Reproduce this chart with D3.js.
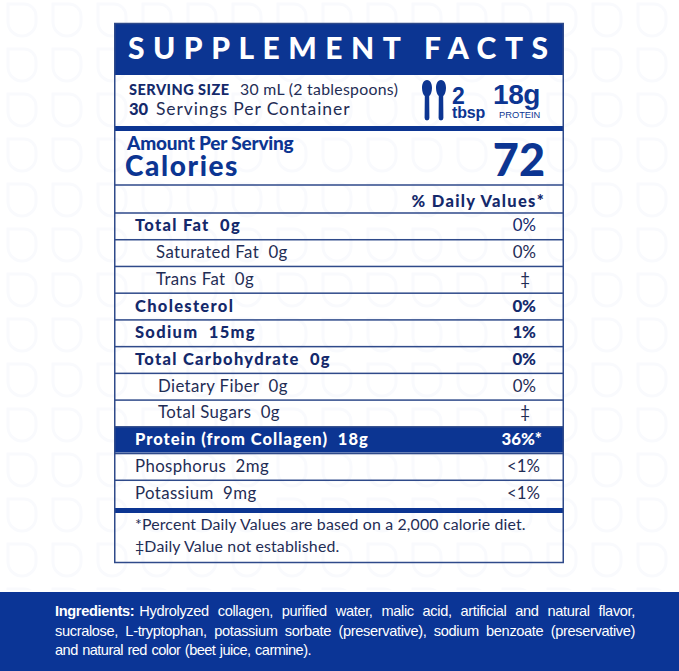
<!DOCTYPE html>
<html>
<head>
<meta charset="utf-8">
<script src="https://cdn.jsdelivr.net/npm/d3@7"></script>
<style>
  html, body { margin: 0; padding: 0; background: #fff; }
  svg { display: block; }
  text { white-space: pre; }
</style>
</head>
<body>
<svg id="chart" width="679" height="671"></svg>
<script>
const nutrients = ['Total Fat', 'Saturated Fat', 'Trans Fat', 'Cholesterol', 'Sodium', 'Total Carbohydrate',
    'Dietary Fiber', 'Total Sugars', 'Protein (from Collagen)', 'Phosphorus', 'Potassium'];
const amounts = ['0g', '0g', '0g', '', '15mg', '0g', '0g', '0g', '18g', '2mg', '9mg'];
const dailyValues = ['0%', '0%', '‡', '0%', '1%', '0%', '0%', '‡', '36%*', '<1%', '<1%'];
const rowStyles = ['bold', 'sub', 'sub', 'bold', 'bold', 'bold', 'sub2', 'sub2', 'hero', 'plain', 'plain'];
const percentWeights = ['light', 'light', 'light', 'bold', 'bold', 'bold', 'light', 'light', 'bold', 'light', 'light'];
const footnotes = ['*Percent Daily Values are based on a 2,000 calorie diet.', '‡Daily Value not established.'];
const ingredientLines = [
    'Hydrolyzed collagen, purified water, malic acid, artificial and natural flavor,',
    'sucralose, L-tryptophan, potassium sorbate (preservative), sodium benzoate (preservative)',
    'and natural red color (beet juice, carmine).'
];

const BLUE = '#0c3592';
const NAVY = '#14296b';
const GREY = '#1f2d55';
const LIGHT = 'Lato, sans-serif';
const ARIAL = '"Liberation Sans", sans-serif';

const svg = d3.select('#chart');

// Faint logo watermark behind everything
const defs = svg.append('defs');
const pattern = defs.append('pattern')
    .attr('id', 'logos')
    .attr('patternUnits', 'userSpaceOnUse')
    .attr('width', 45).attr('height', 45)
    .attr('x', 0).attr('y', -2);
pattern.append('path')
    .attr('d', 'M8,6 H24 A12,12 0 0 1 36,18 V24 A14,14 0 0 1 8,24 Z')
    .attr('fill', 'none')
    .attr('stroke', '#f9fafd')
    .attr('stroke-width', 3);
svg.append('rect').attr('width', 679).attr('height', 590).attr('fill', 'url(#logos)');

// Small helper for the many labels
function put(txt, x, y, size, weight, opts = {}) {
    return svg.append('text')
        .attr('x', x).attr('y', y)
        .attr('font-family', opts.font || LIGHT)
        .attr('font-size', size)
        .attr('font-weight', weight)
        .attr('fill', opts.fill || BLUE)
        .attr('text-anchor', opts.anchor || 'start')
        .attr('letter-spacing', opts.spacing || 0)
        .text(txt);
}

function hline(y, h = 1.5, color = '#2f4a8a') {
    svg.append('rect').attr('x', 115).attr('y', y - h / 2).attr('width', 448).attr('height', h).attr('fill', color);
}

// Table rows
const y = d3.scaleBand().domain(nutrients).range([213, 507]);

// Protein highlight goes under the row text
svg.append('rect')
    .attr('x', 115).attr('width', 448)
    .attr('y', y('Protein (from Collagen)')).attr('height', y.bandwidth() - 1)
    .attr('fill', BLUE);

// Panel header
svg.append('rect').attr('x', 115).attr('y', 23).attr('width', 448).attr('height', 52).attr('fill', BLUE);
put('SUPPLEMENT FACTS', 128, 59, 30, 900, { fill: '#fff' })
    .attr('textLength', 420).attr('lengthAdjust', 'spacing');

// Serving size
put('SERVING SIZE', 129, 95, 14.5, 900, { fill: NAVY, spacing: 0.5 });
put('30 mL (2 tablespoons)', 240, 95, 15.8, 400, { fill: GREY, spacing: 0.3 });
put('30', 129, 115, 16.5, 900, { fill: NAVY });
put('Servings Per Container', 156, 115, 17.5, 400, { fill: GREY, spacing: 0.9 });

// Spoons
const spoonX = d3.scalePoint().domain(d3.range(2)).range([427, 441]);
svg.append('g').selectAll('path')
    .data(d3.range(2))
    .join('path')
    .attr('transform', d => `translate(${spoonX(d)},0)`)
    .attr('fill', BLUE)
    .attr('d', 'M0,80 C3.5,80 5,84 5,88 C5,92 3.5,95 2.2,96 L2.4,118 A2.4,2.4 0 0 1 -2.4,118 L-2.2,96 C-3.5,95 -5,92 -5,88 C-5,84 -3.5,80 0,80 Z');
put('2', 452, 104, 23, 700, { font: ARIAL });
put('tbsp', 452, 118, 16, 700, { font: ARIAL, spacing: -0.2 });
put('18g', 493, 104, 28, 700, { font: ARIAL, spacing: -0.4 });
put('PROTEIN', 499, 118, 9.3, 400, { font: ARIAL });

hline(128.5, 5, BLUE);

// Calories block
put('Amount Per Serving', 127, 150, 19, 900, { spacing: -0.2 });
put('Calories', 125, 176, 28, 900, { spacing: 1.6 });
put('72', 545, 176, 45, 900, { anchor: 'end' });
hline(185);

put('% Daily Values*', 545, 207, 16.5, 900, { anchor: 'end', fill: NAVY, spacing: 1.3 });

// Row lines come from the band scale
const rowEdges = nutrients.map(d => y(d));
svg.append('g').selectAll('rect')
    .data(rowEdges)
    .join('rect')
    .attr('x', 115).attr('width', 448)
    .attr('y', d => d - 0.75).attr('height', 1.5)
    .attr('fill', '#2f4a8a');

const rowX = { bold: 135, hero: 135, plain: 135, sub: 156, sub2: 158 };
nutrients.forEach((name, i) => {
    const style = rowStyles[i];
    const isBold = style === 'bold' || style === 'hero';
    const cy = y(name) + y.bandwidth() / 2 + 5;
    const fill = style === 'hero' ? '#fff' : isBold ? NAVY : GREY;
    const label = amounts[i] ? `${name}  ${amounts[i]}` : name;
    const spacing = style === 'hero' ? 1 : isBold ? 1.3 : 0.4;
    put(label, rowX[style], cy, isBold ? 16.5 : 16.8, isBold ? 900 : 400, { fill, spacing });
    const pct = dailyValues[i];
    const endX = style === 'hero' ? 542 : pct.startsWith('<') ? 540 : pct === '‡' ? 530 : 536;
    const pctBold = percentWeights[i] === 'bold';
    put(pct, endX, cy, 16.8, pctBold ? 900 : 400, { anchor: 'end', fill });
});

hline(510.5, 5, BLUE);

// Footnotes
footnotes.forEach((line, i) => {
    put(line, 135, 530 + i * 22, 15.9, 400, { fill: GREY, spacing: 0.15 });
});

// Panel outline
svg.append('rect')
    .attr('x', 114.75).attr('y', 23.5).attr('width', 448.5).attr('height', 539)
    .attr('fill', 'none').attr('stroke', '#2f4a8a').attr('stroke-width', 1.5);

// Ingredients band
svg.append('rect').attr('x', 0).attr('y', 592).attr('width', 679).attr('height', 79).attr('fill', '#0b3596');

const ingLead = put('Ingredients:', 55, 616, 14.6, 700, { font: ARIAL, fill: '#fff', spacing: -0.35 });
const leadEnd = 55 + ingLead.node().getComputedTextLength() + 5;
// first two lines are justified by word spacing, the last one squeezed tight
const lineStarts = [leadEnd, 55, 55];
const lineEnds = [635, 635, 311];
ingredientLines.forEach((line, i) => {
    const spacing = i === 2 ? -0.55 : -0.35;
    const t = put(line, lineStarts[i], 616 + i * 19.5, 14.6, 400, { font: ARIAL, fill: '#fff', spacing });
    const gap = lineEnds[i] - lineStarts[i] - t.node().getComputedTextLength();
    const spaces = line.split(' ').length - 1;
    t.attr('word-spacing', gap / spaces);
});
</script>
</body>
</html>
